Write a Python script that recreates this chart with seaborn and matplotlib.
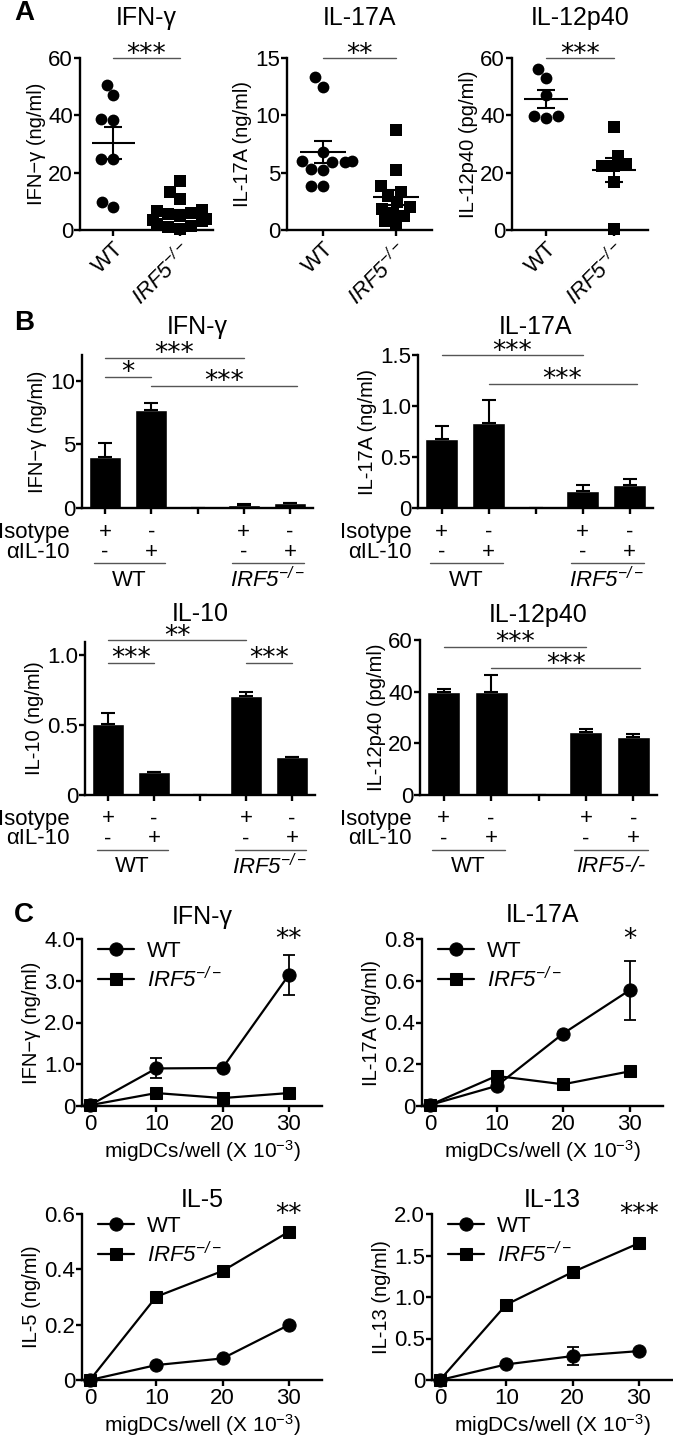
import numpy as np
import pandas as pd
import matplotlib
matplotlib.use("Agg")
import matplotlib.pyplot as plt
import seaborn as sns

# ---------------- data ----------------
# Panel A (individual mice)
a_groups = ["WT", "IRF5"]
a_ifng_wt = [50.7, 47.2, 38.5, 38.8, 24.6, 24.6, 8.1, 9.9]
a_ifng_ko = [17.0, 13.2, 10.9, 7.0, 6.5, 6.0, 5.5, 5.0, 4.0, 3.5, 3.0, 2.0, 1.5, 1.0, 0.5]
a_il17_wt = [13.3, 12.5, 6.8, 6.0, 5.9, 5.9, 6.0, 5.3, 5.2, 3.8, 3.8]
a_il17_ko = [8.7, 5.2, 3.8, 3.3, 3.0, 2.4, 2.0, 1.8, 1.5, 1.2, 0.8, 0.5]
a_il12_wt = [56.1, 53.1, 47.1, 39.6, 39.2, 39.6]
a_il12_ko = [36.1, 25.9, 22.3, 22.3, 22.9, 16.9, 0.2]

# Panel B (bars)
b_conds = ["WT iso", "WT anti", "gap", "KO iso", "KO anti"]
b_isotype = ["+", "-", "", "+", "-"]
b_anti_il10 = ["-", "+", "", "-", "+"]
b_ifng = [4.03, 7.66, 0.0, 0.26, 0.39]
b_ifng_err = [1.03, 0.57, 0.0, 0.02, 0.02]
b_il17 = [0.678, 0.837, 0.0, 0.169, 0.221]
b_il17_err = [0.127, 0.222, 0.0, 0.059, 0.066]
b_il10 = [0.505, 0.162, 0.0, 0.710, 0.274]
b_il10_err = [0.083, 0.0, 0.0, 0.028, 0.0]
b_il12 = [40.0, 39.7, 0.0, 24.5, 22.6]
b_il12_err = [1.0, 6.8, 0.0, 1.0, 0.9]

# Panel C (dose response)
c_cells = [0, 10, 20, 30]
c_ifng_wt = [0.02, 0.90, 0.91, 3.14]
c_ifng_wt_sem = [0.0, 0.24, 0.0, 0.47]
c_ifng_ko = [0.02, 0.31, 0.19, 0.31]
c_il17_wt = [0.005, 0.096, 0.347, 0.555]
c_il17_wt_sem = [0.0, 0.0, 0.0, 0.141]
c_il17_ko = [0.005, 0.144, 0.104, 0.166]
c_il5_wt = [0.0, 0.054, 0.078, 0.199]
c_il5_wt_sem = [0.0, 0.0, 0.0, 0.0]
c_il5_ko = [0.0, 0.301, 0.394, 0.536]
c_il13_wt = [0.0, 0.188, 0.288, 0.348]
c_il13_wt_sem = [0.0, 0.0, 0.11, 0.0]
c_il13_ko = [0.0, 0.908, 1.30, 1.648]

# ---------------- style ----------------
sns.set_theme(style="ticks")
plt.rcParams["font.family"] = ["Liberation Sans", "DejaVu Sans"]
plt.rcParams.update({
    "mathtext.fontset": "custom",
    "mathtext.rm": "Liberation Sans:italic",   # digits/signs inside italic math
    "mathtext.it": "Liberation Sans:italic",
    "mathtext.sf": "Liberation Sans",          # upright math text
    "mathtext.bf": "Liberation Sans:bold",
    "mathtext.default": "it",
    "axes.linewidth": 1.7,
    "xtick.major.width": 1.7,
    "ytick.major.width": 1.7,
    "xtick.major.size": 4,
    "ytick.major.size": 4,
    "xtick.major.pad": 2,
    "ytick.major.pad": 1,
    "xtick.labelsize": 16,
    "ytick.labelsize": 16,
    "axes.labelsize": 14.5,
    "axes.edgecolor": "black",
    "xtick.color": "black",
    "ytick.color": "black",
    "text.color": "black",
    "axes.labelcolor": "black",
})

W, H = 673, 1440
fig = plt.figure(figsize=(W / 100, H / 100), dpi=100)
fig.patch.set_facecolor("white")

KO_SUP = r"$IRF5^{-/-}$"
GRAY = "#555555"
STAR_FONT = ["DejaVu Sans"]


def add_ax(l, t, r, b):
    ax = fig.add_axes([l / W, 1 - b / H, (r - l) / W, (b - t) / H])
    sns.despine(ax=ax)
    ax.set_facecolor("none")
    return ax


def stars(ax, x0, x1, y, label, fs=19, off=-7):
    ax.plot([x0, x1], [y, y], color=GRAY, lw=1.0, clip_on=False)
    ax.annotate(label, xy=((x0 + x1) / 2, y), xytext=(0, off),
                textcoords="offset points", ha="center", va="bottom",
                fontsize=fs, family=STAR_FONT, annotation_clip=False)


# ---------------- Panel A ----------------
a_specs = [
    ((80, 58, 213, 230), "IFN-γ", "IFN−γ (ng/ml)", a_ifng_wt, a_ifng_ko, 60, [0, 20, 40, 60], "***"),
    ((287, 58, 432, 230), "IL-17A", "IL-17A (ng/ml)", a_il17_wt, a_il17_ko, 15, [0, 5, 10, 15], "**"),
    ((512, 58, 648, 230), "IL-12p40", "IL-12p40 (pg/ml)", a_il12_wt, a_il12_ko, 60, [0, 20, 40, 60], "***"),
]
for box, title, ylab, wt, ko, ymax, yt, sig in a_specs:
    ax = add_ax(*box)
    sns.swarmplot(x=["WT"] * len(wt), y=wt, order=a_groups, marker="o", color="black",
                  size=8.5, ax=ax)
    sns.swarmplot(x=["IRF5"] * len(ko), y=ko, order=a_groups, marker="s", color="black",
                  size=8, ax=ax)
    for c in ax.collections:
        c.set_clip_on(False)
    for i, vals in enumerate([wt, ko]):
        v = np.array(vals)
        m = v.mean()
        s = v.std(ddof=1) / np.sqrt(len(v))
        ax.hlines(m, i - 0.32, i + 0.32, color="black", lw=1.5, zorder=5)
        ax.errorbar(i, m, yerr=s, fmt="none", ecolor="black", elinewidth=1.5,
                    capsize=6.5, capthick=1.5, zorder=5)
    ax.set_xlim(-0.5, 1.5)
    ax.set_ylim(0, ymax)
    ax.set_yticks(yt)
    ax.set_yticklabels([str(t) for t in yt])
    ax.set_xticks([0, 1])
    ax.set_xticklabels(["WT", KO_SUP], rotation=45, ha="right", rotation_mode="anchor")
    ax.set_xlabel("")
    ax.set_ylabel(ylab, labelpad=2)
    ax.set_title(title, fontsize=18, pad=24)
    stars(ax, 0, 1, ymax * 1.0, sig)

# ---------------- Panel B ----------------
b_specs = [
    ((82, 355, 313, 508), "IFN-γ", "IFN−γ (ng/ml)", b_ifng, b_ifng_err, 12, [0, 5, 10], ["0", "5", "10"],
     [(0, 3, 11.8, "***"), (0, 1, 10.3, "*"), (1, 4.15, 9.6, "***")], 70, "IRF5sup", 15),
    ((418, 355, 653, 508), "IL-17A", "IL-17A (ng/ml)", b_il17, b_il17_err, 1.5, [0, 0.5, 1.0, 1.5],
     ["0", "0.5", "1.0", "1.5"], [(0, 3, 1.5, "***"), (1, 4.15, 1.22, "***")], 412, "IRF5sup", 15),
    ((85, 642, 315, 795), "IL-10", "IL-10 (ng/ml)", b_il10, b_il10_err, 1.093, [0, 0.5, 1.0],
     ["0", "0.5", "1.0"], [(0, 3, 1.107, "**"), (0, 1, 0.945, "***"), (3, 4, 0.945, "***")], 70,
     "IRF5sup", 15),
    ((420, 640, 657, 795), "IL-12p40", "IL-12p40 (pg/ml)", b_il12, b_il12_err, 60, [0, 20, 40, 60],
     ["0", "20", "40", "60"], [(0, 3, 57.4, "***"), (1, 4.15, 49.0, "***")], 412, "plain", 13),
]
for box, title, ylab, vals, errs, ymax, yt, ytl, sigs, rowx, kolab, tpad in b_specs:
    ax = add_ax(*box)
    dfb = pd.DataFrame({"cond": b_conds, "val": vals})
    sns.barplot(data=dfb, x="cond", y="val", order=b_conds, color="black", saturation=1,
                width=0.7, errorbar=None, ax=ax)
    xs = np.arange(len(b_conds))
    ax.errorbar(xs, vals, yerr=[np.zeros(len(vals)), errs], fmt="none", ecolor="black",
                elinewidth=1.5, capsize=5, capthick=1.5)
    ax.set_xlim(-0.5, 4.5)
    ax.set_ylim(0, ymax)
    ax.set_yticks(yt)
    ax.set_yticklabels(ytl)
    ax.set_xticks(xs)
    ax.set_xticklabels([])
    ax.set_xlabel("")
    ax.set_ylabel(ylab, labelpad=2)
    ax.set_title(title, fontsize=18, pad=tpad)
    for x0, x1, y, lab in sigs:
        stars(ax, x0, x1, y, lab)
    ah = box[3] - box[1]
    tr = ax.get_xaxis_transform()
    for i in xs:
        ax.text(i, -24 / ah, b_isotype[i], transform=tr, ha="center", va="center", fontsize=16)
        ax.text(i, -44 / ah, b_anti_il10[i], transform=tr, ha="center", va="center", fontsize=16)
    ybase = 1 - box[3] / H
    fig.text(rowx / W, ybase - 24 / H, "Isotype", ha="right", va="center", fontsize=16)
    fig.text(rowx / W, ybase - 44 / H, "αIL-10", ha="right", va="center", fontsize=16)
    for g0, g1, lab in [(0, 1, "WT"), (3, 4, KO_SUP if kolab == "IRF5sup" else "IRF5-/-")]:
        ax.plot([g0 - 0.25, g1 + 0.3], [-55 / ah, -55 / ah], transform=tr, color=GRAY,
                lw=1.0, clip_on=False)
        ax.text((g0 + g1) / 2 + 0.02, -72 / ah, lab, transform=tr, ha="center", va="center",
                fontsize=16, fontstyle=("normal" if lab == "WT" else "italic"))

# ---------------- Panel C ----------------
c_specs = [
    ((82, 939, 322, 1106), "IFN-γ", "IFN−γ (ng/ml)", c_ifng_wt, c_ifng_wt_sem, c_ifng_ko, 4.0,
     [0, 1, 2, 3, 4], ["0", "1.0", "2.0", "3.0", "4.0"], "**", 11),
    ((422, 939, 663, 1106), "IL-17A", "IL-17A (ng/ml)", c_il17_wt, c_il17_wt_sem, c_il17_ko, 0.8,
     [0, 0.2, 0.4, 0.6, 0.8], ["0", "0.2", "0.4", "0.6", "0.8"], "*", 12),
    ((82, 1214, 322, 1380), "IL-5", "IL-5 (ng/ml)", c_il5_wt, c_il5_wt_sem, c_il5_ko, 0.6,
     [0, 0.2, 0.4, 0.6], ["0", "0.2", "0.4", "0.6"], "**", 5),
    ((432, 1214, 672, 1380), "IL-13", "IL-13 (ng/ml)", c_il13_wt, c_il13_wt_sem, c_il13_ko, 2.0,
     [0, 0.5, 1.0, 1.5, 2.0], ["0", "0.5", "1.0", "1.5", "2.0"], "***", 5),
]
for box, title, ylab, wt, wsem, ko, ymax, yt, ytl, sig, tpad in c_specs:
    ax = add_ax(*box)
    sns.lineplot(x=c_cells, y=wt, marker="o", color="black", markersize=9.5, linewidth=1.6,
                 markeredgecolor="black", label="WT", ax=ax, clip_on=False, zorder=3)
    sns.lineplot(x=c_cells, y=ko, marker="s", color="black", markersize=8.5, linewidth=1.6,
                 markeredgecolor="black", label=KO_SUP, ax=ax, clip_on=False, zorder=4)
    sem = np.array(wsem)
    if sem.any():
        ax.errorbar(c_cells, wt, yerr=sem, fmt="none", ecolor="black", elinewidth=1.3,
                    capsize=4.5, capthick=1.3)
    ax.set_xlim(-1.2, 35)
    ax.set_ylim(0, ymax)
    ax.set_xticks(c_cells)
    ax.set_xticklabels([str(c) for c in c_cells])
    ax.set_yticks(yt)
    ax.set_yticklabels(ytl)
    ax.set_ylabel(ylab, labelpad=2)
    ax.set_xlabel(r"migDCs/well (X 10$^{\mathsf{-3}}$)", fontsize=15, labelpad=2)
    ax.set_title(title, fontsize=18, pad=tpad)
    ax.annotate(sig, xy=(30, ymax), xytext=(0, -10), textcoords="offset points",
                ha="center", va="bottom", fontsize=19, family=STAR_FONT, annotation_clip=False)
    ax.legend(loc="upper left", bbox_to_anchor=(0.03, 1.04), frameon=False, fontsize=16,
              handlelength=1.6, handletextpad=0.6, labelspacing=0.2, borderaxespad=0)

# ---------------- panel letters ----------------
for lab, y in [("A", 13), ("B", 323), ("C", 915)]:
    fig.text(14 / W, 1 - y / H, lab, fontsize=20, fontweight="bold", ha="left", va="center")

fig.savefig("out.png", dpi=100, facecolor="white")
